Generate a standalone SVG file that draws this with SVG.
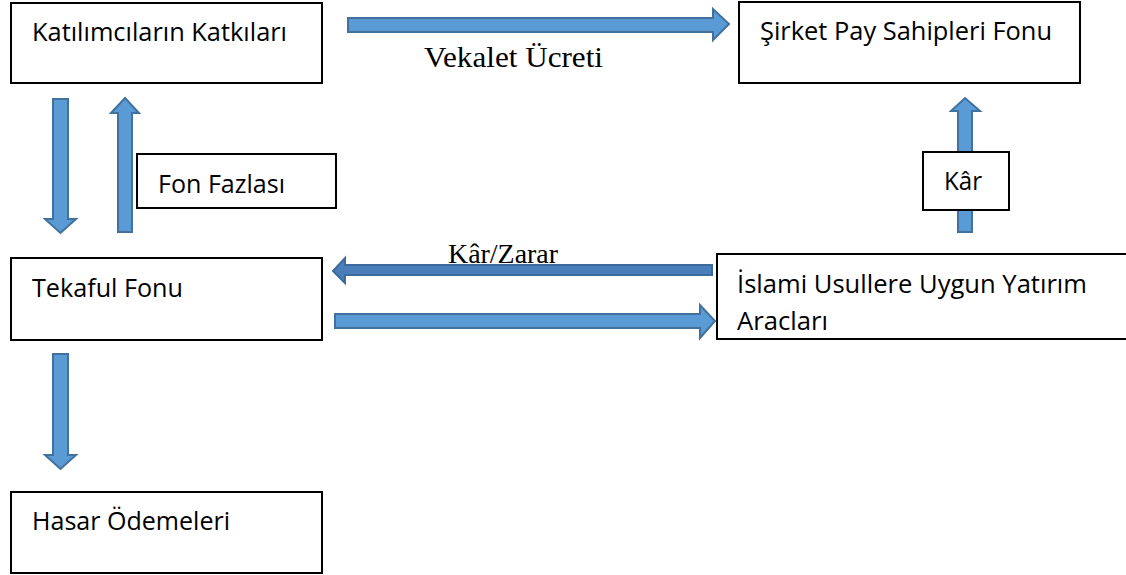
<svg xmlns="http://www.w3.org/2000/svg" width="1126" height="575" viewBox="0 0 1126 575">
<style>
.box{fill:#fff;stroke:#000;stroke-width:2}
.t{font-family:"Open Sans","Liberation Sans",sans-serif;font-size:25px;fill:#000}
.s{font-family:"Liberation Serif","Times New Roman",serif;font-size:28px;fill:#000}
.arr{fill:#5B9BD5;stroke:#41719C;stroke-width:2;stroke-linejoin:miter}
.arr2{fill:#4A7EBB;stroke:#3C6A9C;stroke-width:2}
</style>
<rect width="1126" height="575" fill="#fff"/>
<g id="connectors">
<polygon class="arr" points="348,18 713,18 713,9 729,24 713,40 713,32 348,32"/>
<polygon class="arr" points="53,99 68,99 68,219 76,219 60.5,233 45,219 53,219"/>
<polygon class="arr" points="118,232 132,232 132,113 139,113 125,98 111,113 118,113"/>
<polygon class="arr" points="958,232 972,232 972,111 980,111 965,98 951,111 958,111"/>
<polygon class="arr2" points="712,265 712,275 345,275 345,283 333,271 345,258 345,265"/>
<polygon class="arr" points="335,314 700,314 700,305 715,321 700,338 700,328 335,328"/>
<polygon class="arr" points="53,354 68,354 68,455 76,455 60.5,469 45,455 53,455"/>
</g>
<g id="n1"><rect class="box" x="11" y="3" width="311" height="80"/><text class="t" x="32" y="41" textLength="255" lengthAdjust="spacingAndGlyphs">Katılımcıların Katkıları</text></g>
<g id="n2"><rect class="box" x="739" y="2" width="341" height="81"/><text class="t" x="760" y="40" textLength="292" lengthAdjust="spacingAndGlyphs">Şirket Pay Sahipleri Fonu</text></g>
<g id="n3"><rect class="box" x="137" y="154" width="199" height="54"/><text class="t" x="158" y="193" textLength="127" lengthAdjust="spacingAndGlyphs">Fon Fazlası</text></g>
<g id="n4"><rect class="box" x="923" y="152" width="86" height="58"/><text class="t" x="944" y="190" textLength="38" lengthAdjust="spacingAndGlyphs">Kâr</text></g>
<g id="n5"><rect class="box" x="11" y="258" width="311" height="82"/><text class="t" x="32" y="297" textLength="151" lengthAdjust="spacingAndGlyphs">Tekaful Fonu</text></g>
<g id="n6"><rect class="box" x="717" y="254" width="420" height="85"/><text class="t" x="737" y="293" textLength="350" lengthAdjust="spacingAndGlyphs">İslami Usullere Uygun Yatırım</text><text class="t" x="737" y="330" textLength="91" lengthAdjust="spacingAndGlyphs">Aracları</text></g>
<g id="n7"><rect class="box" x="11" y="492" width="311" height="81"/><text class="t" x="32" y="530" textLength="198" lengthAdjust="spacingAndGlyphs">Hasar Ödemeleri</text></g>
<g id="labels">
<text class="s" x="424" y="67" style="font-size:30px" textLength="179" lengthAdjust="spacingAndGlyphs">Vekalet Ücreti</text>
<text class="s" x="448" y="263" textLength="110" lengthAdjust="spacingAndGlyphs">Kâr/Zarar</text>
</g>
</svg>
